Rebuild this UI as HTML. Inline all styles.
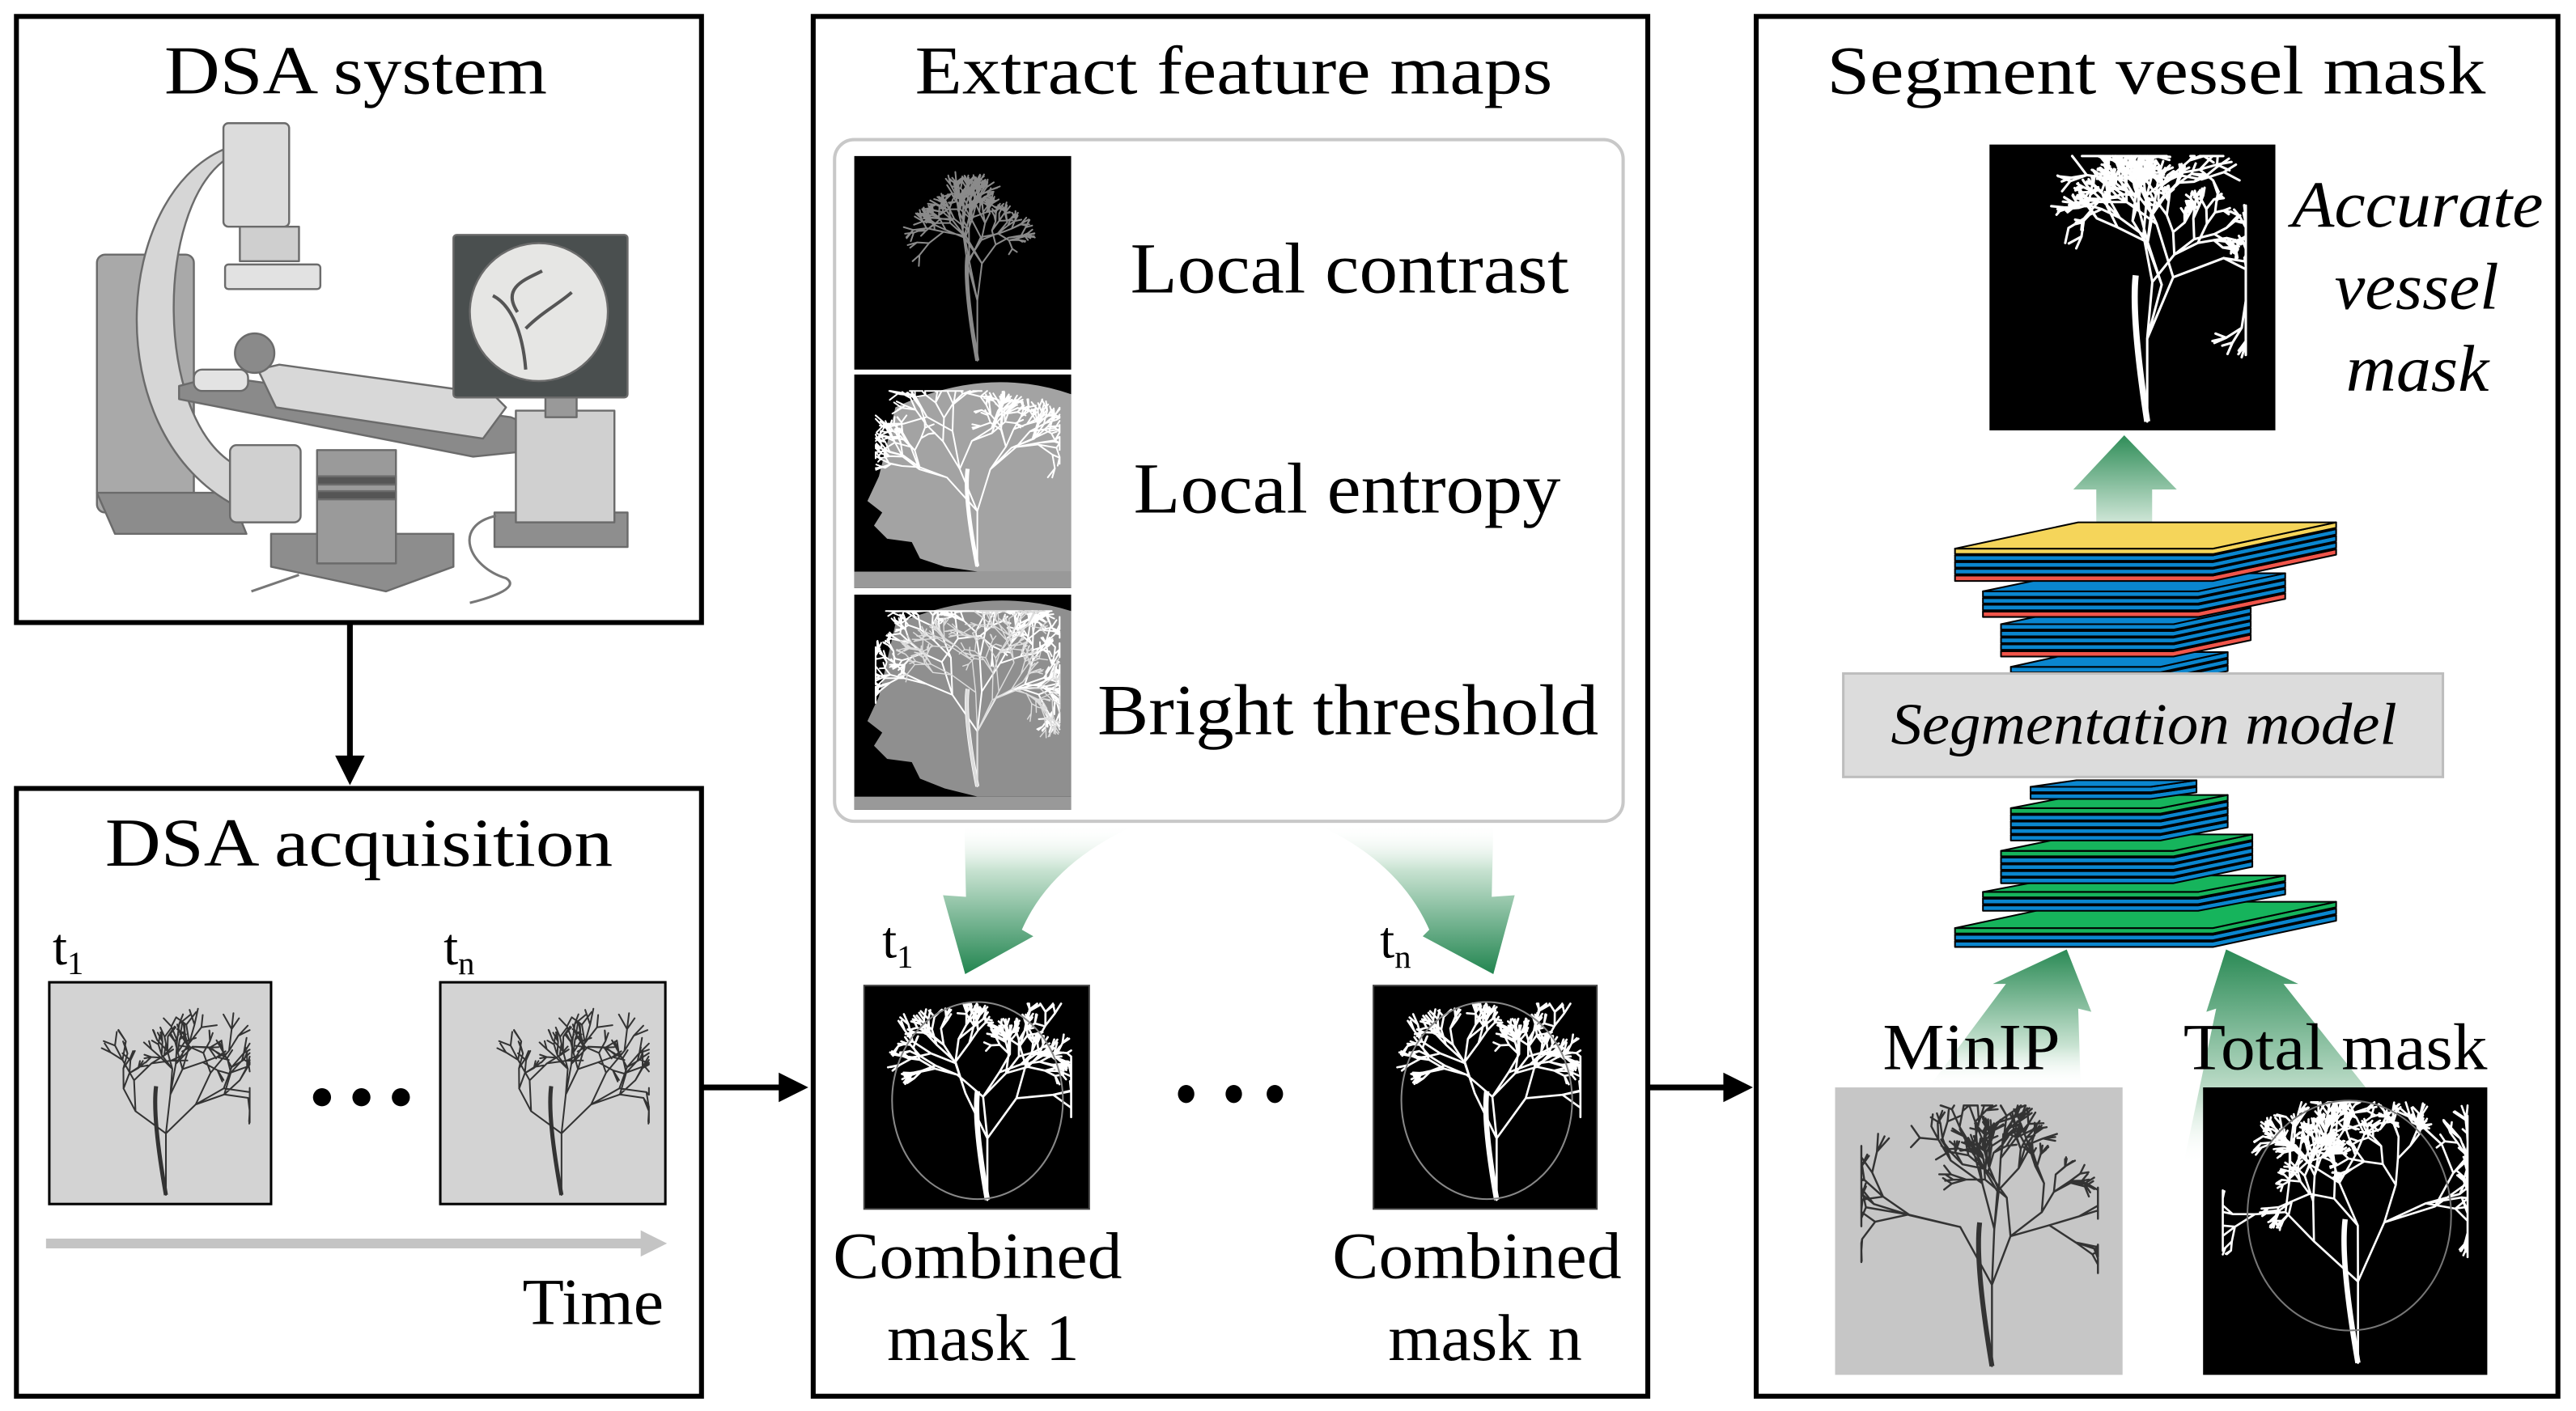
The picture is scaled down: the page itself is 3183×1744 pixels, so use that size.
<!DOCTYPE html>
<html><head><meta charset="utf-8"><style>
html,body{margin:0;padding:0;background:#fff;}
svg{display:block;}
text{font-family:"Liberation Serif","Times New Roman",serif;fill:#000;}
</style></head><body>
<svg id="s" width="3183" height="1744" viewBox="0 0 1568 859" preserveAspectRatio="none" xmlns="http://www.w3.org/2000/svg" font-family="Liberation Serif, Times New Roman, serif">
<defs>
<linearGradient id="gd" x1="0" y1="0" x2="0" y2="1"><stop offset="0" stop-color="#fff" stop-opacity="0"/><stop offset="0.3" stop-color="#c9e3d2"/><stop offset="1" stop-color="#228550"/></linearGradient>
<linearGradient id="gu" x1="0" y1="1" x2="0" y2="0"><stop offset="0" stop-color="#fff" stop-opacity="0"/><stop offset="0.3" stop-color="#c9e3d2"/><stop offset="1" stop-color="#2a8a55"/></linearGradient>
<linearGradient id="gu2" x1="0" y1="1" x2="0" y2="0"><stop offset="0" stop-color="#cfe6d7"/><stop offset="1" stop-color="#2f8d58"/></linearGradient>
</defs>
<rect width="1568" height="859" fill="#fff"/>

<rect x="10" y="10" width="417" height="369" fill="none" stroke="#000" stroke-width="3"/>
<rect x="10" y="480" width="417" height="370" fill="none" stroke="#000" stroke-width="3"/>
<rect x="495" y="10" width="508" height="840" fill="none" stroke="#000" stroke-width="3"/>
<rect x="1069" y="10" width="488" height="840" fill="none" stroke="#000" stroke-width="3"/>

<line x1="213" y1="379" x2="213" y2="462" stroke="#000" stroke-width="3.5"/>
<polygon points="204,460 222,460 213,478" fill="#000"/>
<line x1="427" y1="662" x2="476" y2="662" stroke="#000" stroke-width="3.5"/>
<polygon points="474,653 474,671 492,662" fill="#000"/>
<line x1="1003" y1="662" x2="1051" y2="662" stroke="#000" stroke-width="3.5"/>
<polygon points="1049,653 1049,671 1067,662" fill="#000"/>

<text x="100" y="57" font-size="42" textLength="233" lengthAdjust="spacingAndGlyphs">DSA system</text>
<text x="64" y="527" font-size="42" textLength="309" lengthAdjust="spacingAndGlyphs">DSA acquisition</text>
<text x="557" y="57" font-size="42" textLength="388" lengthAdjust="spacingAndGlyphs">Extract feature maps</text>
<text x="1112" y="57" font-size="42" textLength="401" lengthAdjust="spacingAndGlyphs">Segment vessel mask</text>

<g stroke="#6b6b6b" stroke-width="1.2" stroke-linejoin="round">
<rect x="59" y="155" width="59" height="157" rx="5" fill="#a9a9a9"/>
<polygon points="59,300 140,300 150,325 70,325" fill="#8c8c8c"/>
<path d="M136,91 C70,120 60,260 140,306 L140,281 C95,250 95,130 136,98 Z" fill="#d6d6d6"/>
<rect x="136" y="75" width="40" height="63" rx="3" fill="#dcdcdc"/>
<rect x="146" y="138" width="36" height="21" fill="#cfcfcf"/>
<rect x="137" y="161" width="58" height="15" rx="2" fill="#e2e2e2"/>
<rect x="140" y="271" width="43" height="47" rx="4" fill="#d0d0d0"/>
<polygon points="165,325 276,325 276,345 235,360 165,345" fill="#8d8d8d"/>
<rect x="193" y="274" width="48" height="69" fill="#9a9a9a"/>
<rect x="193" y="290" width="48" height="5" fill="#555"/>
<rect x="193" y="299" width="48" height="5" fill="#555"/>
<polygon points="109,235 132,229 311,254 337,265 337,273 288,278 109,243" fill="#8a8a8a"/>
<rect x="118" y="225" width="33" height="13" rx="5" fill="#e3e3e3"/>
<polygon points="157,225 170,222 300,240 308,248 294,267 168,248" fill="#d8d8d8"/>
<circle cx="155" cy="215" r="12" fill="#8a8a8a"/>
<rect x="301" y="312" width="81" height="21" fill="#8e8e8e"/>
<rect x="314" y="250" width="60" height="68" fill="#d0d0d0"/>
<rect x="332" y="242" width="19" height="12" fill="#999"/>
<rect x="276" y="143" width="106" height="99" rx="2" fill="#4a4f4f"/>
<ellipse cx="328" cy="190" rx="42" ry="42" fill="#e6e6e4"/>
</g>
<path d="M300,180 C310,185 318,200 320,225 M320,200 C330,190 340,185 348,178 M315,190 C305,175 320,170 330,165" stroke="#555" stroke-width="2" fill="none"/>
<path d="M302,314 C275,320 285,345 308,352 C318,358 295,365 286,367 M153,360 L182,350" stroke="#777" stroke-width="1.5" fill="none"/>

<text x="32" y="587" font-size="32">t<tspan font-size="20" dy="6">1</tspan></text>
<text x="270" y="587" font-size="32">t<tspan font-size="20" dy="6">n</tspan></text>
<rect x="30" y="598" width="135" height="135" fill="#d3d3d3" stroke="#000" stroke-width="1.5"/>
<rect x="268" y="598" width="137" height="135" fill="#d3d3d3" stroke="#000" stroke-width="1.5"/>
<g id="dsaA"></g>
<circle cx="196" cy="668" r="5.5"/><circle cx="220" cy="668" r="5.5"/><circle cx="244" cy="668" r="5.5"/>
<line x1="28" y1="757" x2="392" y2="757" stroke="#c4c4c4" stroke-width="6"/>
<polygon points="390,749 390,765 406,757" fill="#c4c4c4"/>
<text x="318" y="806" font-size="40" textLength="86" lengthAdjust="spacingAndGlyphs">Time</text>

<rect x="508" y="85" width="480" height="415" rx="12" fill="#fff" stroke="#c8c8c8" stroke-width="2"/>
<rect x="520" y="95" width="132" height="130" fill="#000"/>
<rect x="520" y="228" width="132" height="130" fill="#000"/>
<rect x="520" y="362" width="132" height="131" fill="#000"/>
<rect x="520" y="485" width="132" height="8" fill="#999"/>
<rect x="520" y="348" width="132" height="10" fill="#999"/>
<path d="M545,248 Q600,222 652,240 L652,348 L595,348 L575,345 L560,340 L555,330 L540,328 L532,320 L537,312 L528,305 L535,290 L540,270 Z" fill="#a3a3a3"/>
<path d="M545,380 Q600,356 652,372 L652,485 L595,485 L575,480 L560,474 L555,464 L540,462 L532,454 L537,446 L528,439 L535,424 L540,402 Z" fill="#8f8f8f"/>
<g id="fm"></g>
<text x="688" y="178" font-size="44" textLength="267" lengthAdjust="spacingAndGlyphs">Local contrast</text>
<text x="690" y="312" font-size="44" textLength="260" lengthAdjust="spacingAndGlyphs">Local entropy</text>
<text x="668" y="447" font-size="44" textLength="305" lengthAdjust="spacingAndGlyphs">Bright threshold</text>

<path d="M587,502 L588,546 L574,545 L587.5,593 L629,570 L622,566 Q640,525 692,502 Z" fill="url(#gd)"/>
<path d="M909,502 L908,546 L922,545 L909,593 L866,570 L870,566 Q852,525 802,502 Z" fill="url(#gd)"/>
<text x="537" y="583" font-size="32">t<tspan font-size="20" dy="6">1</tspan></text>
<text x="840" y="583" font-size="32">t<tspan font-size="20" dy="6">n</tspan></text>
<rect x="526" y="600" width="137" height="136" fill="#000" stroke="#444" stroke-width="1"/>
<rect x="836" y="600" width="136" height="136" fill="#000" stroke="#444" stroke-width="1"/>
<g id="cm"></g>
<ellipse cx="722" cy="666" rx="5" ry="5.5"/><ellipse cx="751" cy="666" rx="5" ry="5.5"/><ellipse cx="776" cy="666" rx="5" ry="5.5"/>
<text x="507" y="778" font-size="40" textLength="176" lengthAdjust="spacingAndGlyphs">Combined</text>
<text x="540" y="828" font-size="40" textLength="117" lengthAdjust="spacingAndGlyphs">mask 1</text>
<text x="811" y="778" font-size="40" textLength="176" lengthAdjust="spacingAndGlyphs">Combined</text>
<text x="845" y="828" font-size="40" textLength="118" lengthAdjust="spacingAndGlyphs">mask n</text>

<rect x="1211" y="88" width="174" height="174" fill="#000"/>
<g id="acc"></g>
<text x="1395" y="138" font-size="40" font-style="italic" textLength="153" lengthAdjust="spacingAndGlyphs">Accurate</text>
<text x="1421" y="188" font-size="40" font-style="italic" textLength="100" lengthAdjust="spacingAndGlyphs">vessel</text>
<text x="1428" y="238" font-size="40" font-style="italic" textLength="87" lengthAdjust="spacingAndGlyphs">mask</text>
<polygon points="1293,265 1325,298 1310,298 1310,318 1276,318 1276,298 1262,298" fill="url(#gu2)"/>
<g id="stk"></g>
<rect x="1122" y="410" width="365" height="63" fill="#dcdcdc" stroke="#bdbdbd" stroke-width="1.5"/>
<text x="1151" y="453" font-size="36" font-style="italic" textLength="308" lengthAdjust="spacingAndGlyphs">Segmentation model</text>
<g id="stk2"></g>
<polygon points="1258,578 1273,616 1265,614 1266.5,662 1174,662 1221,599 1213,599" fill="url(#gu)"/>
<polygon points="1355,578 1399,599 1390,599 1440,662 1329,709 1349,614 1343,616" fill="url(#gu)"/>
<text x="1146" y="651" font-size="40" textLength="108" lengthAdjust="spacingAndGlyphs">MinIP</text>
<text x="1329" y="651" font-size="40" textLength="185" lengthAdjust="spacingAndGlyphs">Total mask</text>
<rect x="1117" y="662" width="175" height="175" fill="#c6c6c6"/>
<rect x="1341" y="662" width="173" height="175" fill="#000"/>
<g id="low"></g>
</svg>
<script>
var NS="http://www.w3.org/2000/svg";
function el(p,t,a){var e=document.createElementNS(NS,t);for(var k in a)e.setAttribute(k,a[k]);p.appendChild(e);return e;}
var seed=7;function rnd(){seed=(seed*16807)%2147483647;return (seed-1)/2147483646;}
function tree(g,x,y,w,h,col,sw,n){
  var d="";
  function br(px,py,ang,len,depth){
    if(depth<=0||len<3)return;
    var nx=px+Math.cos(ang)*len, ny=py+Math.sin(ang)*len;
    nx=Math.max(x+3,Math.min(x+w-3,nx));ny=Math.max(y+3,Math.min(y+h-3,ny));
    d+="M"+px.toFixed(1)+","+py.toFixed(1)+" L"+nx.toFixed(1)+","+ny.toFixed(1)+" ";
    var k=2+(rnd()<0.4?1:0);
    for(var i=0;i<k;i++)br(nx,ny,ang+(rnd()-0.5)*1.9,len*(0.6+rnd()*0.25),depth-1);
  }
  br(x+w*0.55,y+h*0.98,-Math.PI/2,h*0.3,n);
  el(g,"path",{d:d,stroke:col,"stroke-width":sw,fill:"none","stroke-linecap":"round"});
  el(g,"path",{d:"M"+(x+w*0.55)+","+(y+h*0.98)+" Q"+(x+w*0.48)+","+(y+h*0.6)+" "+(x+w*0.5)+","+(y+h*0.45),stroke:col,"stroke-width":sw*2.5,fill:"none"});
}
var g=document.getElementById("dsaA");
seed=7;tree(g,35,605,120,125,"#333",1,6);seed=7;tree(g,273,605,125,125,"#333",1,6);
g=document.getElementById("fm");
seed=3;tree(g,530,100,118,122,"#8a8a8a",1,7);
seed=5;tree(g,530,235,118,112,"#fff",1,7);
seed=9;tree(g,530,369,118,112,"#fff",1,8);
seed=21;tree(g,530,369,118,112,"#ddd",0.7,7);
g=document.getElementById("cm");
seed=11;tree(g,535,608,120,125,"#fff",1.3,7);seed=11;tree(g,845,608,120,125,"#fff",1.3,7);
el(g,"ellipse",{cx:595,cy:670,rx:52,ry:60,fill:"none",stroke:"#888","stroke-width":1});
el(g,"ellipse",{cx:905,cy:670,rx:52,ry:60,fill:"none",stroke:"#888","stroke-width":1});
g=document.getElementById("acc");
seed=13;tree(g,1230,92,140,168,"#fff",1.5,8);
g=document.getElementById("low");
seed=17;tree(g,1130,670,150,165,"#333",1.2,7);
seed=19;tree(g,1350,668,155,165,"#fff",1.3,8);
el(g,"ellipse",{cx:1430,cy:740,rx:62,ry:70,fill:"none",stroke:"#777","stroke-width":1});
var C={y:"#f5d55a",b:"#0a86cf",r:"#f0554a",g:"#16b45c"};
function group(par,fl,fr,br,yb,yf,cols){
  var dx=br-fr, t=3.3, step=4.1;
  for(var i=cols.length-1;i>=0;i--){
    var o=i*step;
    var p=[[fl,yf+o],[fr,yf+o],[br,yb+o],[br,yb+o+t],[fr,yf+o+t],[fl,yf+o+t]];
    el(par,"polygon",{points:p.map(function(q){return q.join(",")}).join(" "),fill:C[cols[i]],stroke:"#000","stroke-width":1,"stroke-linejoin":"round"});
    el(par,"polygon",{points:[[fl,yf+o],[fr,yf+o],[br,yb+o],[fl+dx,yb+o]].map(function(q){return q.join(",")}).join(" "),fill:C[cols[i]],stroke:"#000","stroke-width":1,"stroke-linejoin":"round"});
  }
}
var s=document.getElementById("stk");
group(s,1224,1315,1356,397,406,["b","b","b"]);
group(s,1218,1323,1370,370,380,["b","b","b","b","r"]);
group(s,1207,1338,1391,349,360,["b","b","b","r"]);
group(s,1190,1347,1422,318,334,["y","b","b","b","r"]);
s=document.getElementById("stk2");
group(s,1190,1347,1422,549,565,["g","b","b"]);
group(s,1207,1338,1391,533,543,["g","b","b"]);
group(s,1218,1323,1371,508,518,["g","b","b","b","b"]);
group(s,1224,1315,1356,484,492,["g","b","b","b","b"]);
group(s,1236,1309,1337,475,479,["b","b"]);
</script>
</body></html>
